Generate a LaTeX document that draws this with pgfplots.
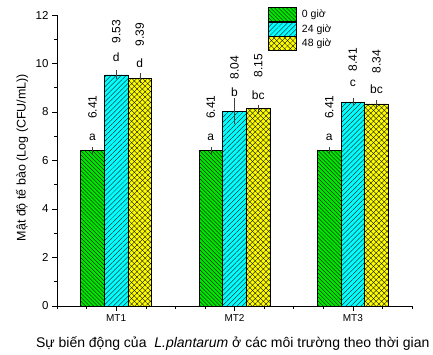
\documentclass[border=0pt]{standalone}
\usepackage{pgfplots}
\pgfplotsset{compat=1.18}
\usepackage{fontspec}
\setmainfont{Liberation Sans}
\usetikzlibrary{patterns.meta,calc}
\definecolor{cgreen}{RGB}{0,230,0}
\definecolor{ccyan}{RGB}{0,255,255}
\definecolor{cyellow}{RGB}{255,255,0}
\begin{document}
\begin{tikzpicture}
\begin{axis}[
  name=ax,
  scale only axis, width=355pt, height=291pt,
  xmin=0.5, xmax=3.5, ymin=0, ymax=12,
  axis x line*=bottom, axis y line*=left,
  axis line style={black, line width=0.6pt},
  xtick={1,2,3}, xticklabels={MT1,MT2,MT3},
  minor xtick={0.5,0.75,...,3.5},
  ytick={0,2,...,12}, minor ytick={1,3,...,11},
  tick align=outside,
  major tick length=5pt, minor tick length=3pt,
  tick style={black, line width=0.5pt},
  ybar, bar width=0.2,
  clip=false,
  /pgf/number format/assume math mode=true,
  yticklabel style={font=\fontsize{11.5}{13}\selectfont},
  xticklabel style={font=\fontsize{10}{12}\selectfont},
  ylabel={Mật độ tế bào (Log (CFU/mL))},
  xlabel={Sự biến động của\ \ \textit{L.plantarum} ở các môi trường theo thời gian},
  ylabel style={font=\fontsize{12.5}{14}\selectfont, at={(rel axis cs:-0.0986,0.51)}, anchor=center},
  xlabel style={font=\fontsize{14}{16}\selectfont, at={(rel axis cs:0.495,-0.128)}, anchor=center},
  legend style={draw=none, fill=none, at={(rel axis cs:0.594,1.027)}, anchor=north west,
    font=\fontsize{10.5}{12}\selectfont, row sep=0pt, inner sep=0pt,
    nodes={inner sep=1.5pt},
    /tikz/every odd column/.append style={column sep=4pt}},
  legend cell align=left,
  legend image code/.code={\draw[#1] (0pt,-7pt) rectangle (28pt,7pt);},
  error bars/error bar style={black!75, line width=0.5pt},
  error bars/error mark options={black!75, mark size=2.5pt, line width=0.5pt},
]
\addplot[fill=cgreen, draw=black, line width=0.4pt, bar shift=-0.2,
  postaction={pattern={Lines[angle=-45,distance=2.8pt,line width=0.35pt]}, pattern color=black},
  error bars/.cd, y dir=both, y explicit]
  coordinates {(1,6.41) +- (0,0.03) (2,6.41) +- (0,0.03) (3,6.41) +- (0,0.03)};
\addplot[fill=ccyan, draw=black, line width=0.4pt, bar shift=0,
  postaction={pattern={Lines[angle=45,distance=3.5pt,line width=0.35pt]}, pattern color=black},
  error bars/.cd, y dir=both, y explicit]
  coordinates {(1,9.53) +- (0,0.08) (2,8.04) +- (0,0.45) (3,8.41) +- (0,0.05)};
\addplot[fill=cyellow, draw=black, line width=0.4pt, bar shift=0.2,
  postaction={pattern={Lines[angle=45,distance=3.8pt,line width=0.35pt]}, pattern color=black},
  postaction={pattern={Lines[angle=-45,distance=3.8pt,line width=0.35pt]}, pattern color=black},
  error bars/.cd, y dir=both, y explicit]
  coordinates {(1,9.39) +- (0,0.1) (2,8.15) +- (0,0.05) (3,8.34) +- (0,0.05)};
\legend{0 giờ, 24 giờ, 48 giờ}
\coordinate (bl) at (rel axis cs:0,0);
\coordinate (tr) at (rel axis cs:1,1);
% letters
\begin{scope}[every node/.style={font=\fontsize{12}{14}\selectfont}]
\node at (axis cs:0.8,6.97) {a};
\node at (axis cs:1.0,10.27) {d};
\node at (axis cs:1.2,10.0) {d};
\node at (axis cs:1.8,6.97) {a};
\node at (axis cs:2.0,8.82) {b};
\node at (axis cs:2.2,8.7) {bc};
\node at (axis cs:2.8,6.97) {a};
\node at (axis cs:3.0,9.2) {c};
\node at (axis cs:3.2,8.93) {bc};
\end{scope}
\begin{scope}[every node/.style={font=\fontsize{12}{14}\selectfont, rotate=90, anchor=center}]
\node at (axis cs:0.8,8.2) {6.41};
\node at (axis cs:1.0,11.3) {9.53};
\node at (axis cs:1.2,11.2) {9.39};
\node at (axis cs:1.8,8.2) {6.41};
\node at (axis cs:2.0,9.83) {8.04};
\node at (axis cs:2.2,9.9) {8.15};
\node at (axis cs:2.8,8.2) {6.41};
\node at (axis cs:3.0,10.16) {8.41};
\node at (axis cs:3.2,10.08) {8.34};
\end{scope}
\end{axis}
\pgfresetboundingbox
\path ($(bl)+(-57pt,-49pt)$) rectangle ($(tr)+(21pt,15pt)$);
\end{tikzpicture}
\end{document}
